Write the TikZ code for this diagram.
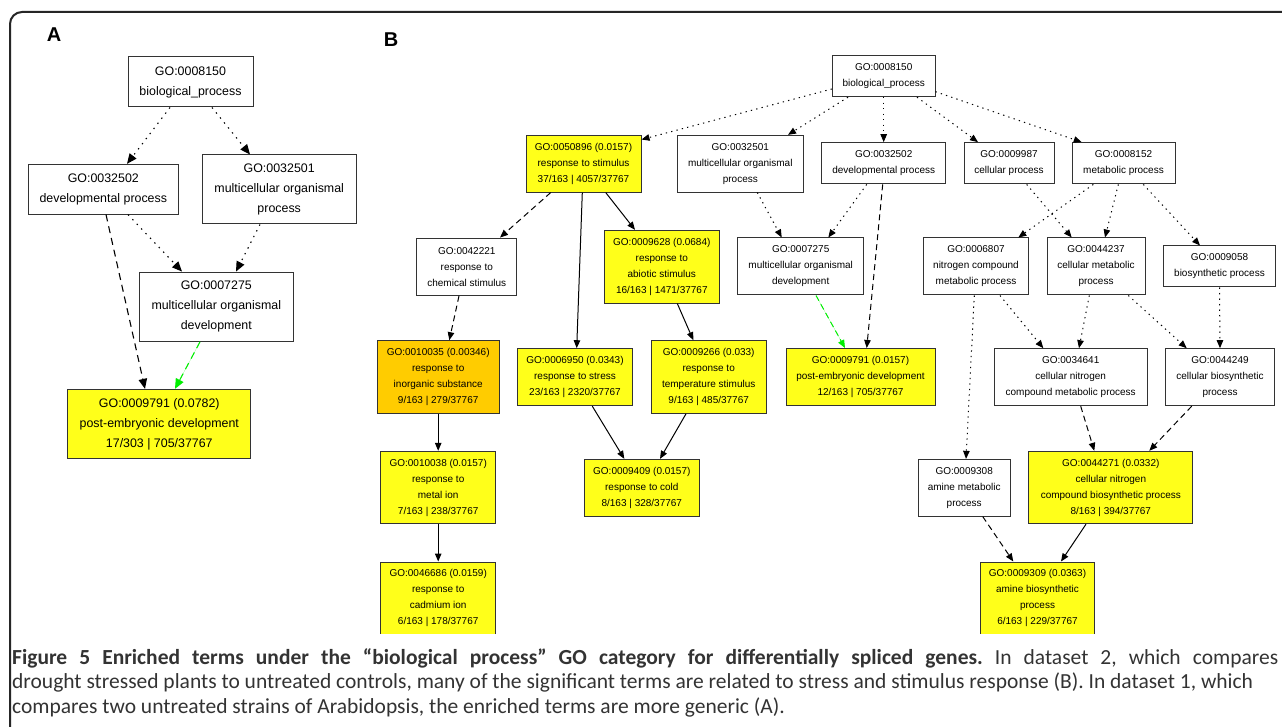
\documentclass[tikz,border=0pt]{standalone}
\usepackage{fontspec}
\setmainfont{Liberation Sans}
\newfontfamily\capfont{Carlito}
\usetikzlibrary{arrows.meta,calc}
\definecolor{sigyellow}{HTML}{FFFF1A}
\definecolor{sigorange}{HTML}{FFCC00}
\definecolor{edgegreen}{HTML}{00EE00}
\definecolor{boxline}{HTML}{333333}
\tikzset{
  gobox/.style={draw=boxline, line width=1pt, fill=white, align=center, inner sep=0pt, text=black,
    font=\fontsize{10}{16}\selectfont},
  goA/.style={gobox, font=\fontsize{12.4}{20}\selectfont},
  sigy/.style={fill=sigyellow},
  sigo/.style={fill=sigorange},
  tipB/.style={-{Triangle[length=8pt,width=6.5pt]}},
  tipA/.style={-{Triangle[length=10pt,width=8.5pt]}},
  dotB/.style={line width=1pt, dash pattern=on 1.3pt off 4.2pt, tipB},
  dashB/.style={line width=1pt, dash pattern=on 6pt off 4pt, tipB},
  solB/.style={line width=1pt, tipB},
  dotA/.style={line width=1.1pt, dash pattern=on 1.4pt off 5pt, tipA},
  dashA/.style={line width=1.1pt, dash pattern=on 7pt off 5pt, tipA},
  greenA/.style={dashA, draw=edgegreen, fill=edgegreen},
  greenB/.style={dashB, draw=edgegreen, fill=edgegreen},
  panel/.style={font=\fontsize{20}{20}\selectfont\bfseries, inner sep=0pt}
}
\begin{document}
\begin{tikzpicture}[x=1pt,y=-1pt]
\useasboundingbox (0,0) rectangle (1282,727);
\fill[white] (0,0) rectangle (1282,727);
% frame
\draw[line width=2pt, draw=black!85] (10,728) -- (10,24) arc[start angle=180,end angle=270,radius=12] -- (1283,12);
\node[panel] (labA) at (54,35) {A};
\node[panel] (labB) at (391,40) {B};

% ---------------- Panel A ----------------
\node[goA, minimum width=125pt, minimum height=50pt] (Abp) at (190.5,82) {GO:0008150\\biological\_process};
\node[goA, minimum width=150pt, minimum height=49.7pt] (Adev) at (103.3,189.2) {GO:0032502\\developmental process};
\node[goA, minimum width=153.7pt, minimum height=69pt] (Amop) at (279.2,189.5) {GO:0032501\\multicellular organismal\\process};
\node[goA, minimum width=154pt, minimum height=69.3pt] (Amod) at (216.3,306.7) {GO:0007275\\multicellular organismal\\development};
\node[goA, sigy, minimum width=182.7pt, minimum height=69.3pt] (Aped) at (159.3,424) {GO:0009791 (0.0782)\\post-embryonic development\\17/303 | 705/37767};

\draw[dotA] ([xshift=-20.5pt]Abp.south) -- ([xshift=23.7pt]Adev.north);
\draw[dotA] ([xshift=21.5pt]Abp.south) -- ([xshift=-29.2pt]Amop.north);
\draw[dotA] ([xshift=24.7pt]Adev.south) -- ([xshift=-34.3pt]Amod.north);
\draw[dotA] ([xshift=-19.2pt]Amop.south) -- ([xshift=19.7pt]Amod.north);
\draw[dashA] ([xshift=2.7pt]Adev.south) -- ([xshift=-14.3pt]Aped.north);
\draw[greenA] ([xshift=-16.3pt]Amod.south) -- ([xshift=15.7pt]Aped.north);

% ---------------- Panel B ----------------
\begin{scope}
\clip (0,0) rectangle (1282,633.3);
\node[gobox, minimum width=102.7pt, minimum height=41pt] (bpB) at (883.7,76.2) {GO:0008150\\biological\_process};
\node[gobox, sigy, minimum width=115pt, minimum height=56.7pt] (rts) at (583.5,163.7) {GO:0050896 (0.0157)\\response to stimulus\\37/163 | 4057/37767};
\node[gobox, minimum width=126pt, minimum height=56.7pt] (mopB) at (740.3,163.7) {GO:0032501\\multicellular organismal\\process};
\node[gobox, minimum width=124pt, minimum height=41.3pt] (devB) at (883.7,163.3) {GO:0032502\\developmental process};
\node[gobox, minimum width=90pt, minimum height=41.3pt] (cp) at (1009,163.3) {GO:0009987\\cellular process};
\node[gobox, minimum width=103pt, minimum height=41.3pt] (mp) at (1123.5,163.3) {GO:0008152\\metabolic process};

\node[gobox, minimum width=100.3pt, minimum height=57.3pt] (rcs) at (466.8,266.7) {GO:0042221\\response to\\chemical stimulus};
\node[gobox, sigy, minimum width=115pt, minimum height=72.7pt] (ras) at (661.8,266.7) {GO:0009628 (0.0684)\\response to\\abiotic stimulus\\16/163 | 1471/37767};
\node[gobox, minimum width=126pt, minimum height=57pt] (modB) at (800.7,266.5) {GO:0007275\\multicellular organismal\\development};
\node[gobox, minimum width=104.6pt, minimum height=57pt] (ncm) at (976,266.5) {GO:0006807\\nitrogen compound\\metabolic process};
\node[gobox, minimum width=98pt, minimum height=57pt] (cmp) at (1096,266.5) {GO:0044237\\cellular metabolic\\process};
\node[gobox, minimum width=112.4pt, minimum height=41pt] (bsp) at (1219.5,266.5) {GO:0009058\\biosynthetic process};

\node[gobox, sigo, minimum width=121.7pt, minimum height=72.6pt] (ris) at (438.2,377) {GO:0010035 (0.00346)\\response to\\inorganic substance\\9/163 | 279/37767};
\node[gobox, sigy, minimum width=115.4pt, minimum height=57pt] (rst) at (575,377.2) {GO:0006950 (0.0343)\\response to stress\\23/163 | 2320/37767};
\node[gobox, sigy, minimum width=115.3pt, minimum height=72.6pt] (rtemp) at (708.7,377) {GO:0009266 (0.033)\\response to\\temperature stimulus\\9/163 | 485/37767};
\node[gobox, sigy, minimum width=149pt, minimum height=57.2pt] (pedB) at (860.5,377.1) {GO:0009791 (0.0157)\\post-embryonic development\\12/163 | 705/37767};
\node[gobox, minimum width=153.3pt, minimum height=57pt] (cnc) at (1070.7,377.2) {GO:0034641\\cellular nitrogen\\compound metabolic process};
\node[gobox, minimum width=108.6pt, minimum height=57pt] (cbp) at (1220,377.2) {GO:0044249\\cellular biosynthetic\\process};

\node[gobox, sigy, minimum width=115pt, minimum height=72.4pt] (rmi) at (438.2,487.5) {GO:0010038 (0.0157)\\response to\\metal ion\\7/163 | 238/37767};
\node[gobox, sigy, minimum width=115pt, minimum height=56.7pt] (rcold) at (641.8,487.7) {GO:0009409 (0.0157)\\response to cold\\8/163 | 328/37767};
\node[gobox, minimum width=91.7pt, minimum height=56.7pt] (amp) at (964.2,487.7) {GO:0009308\\amine metabolic\\process};
\node[gobox, sigy, minimum width=163.7pt, minimum height=72.4pt] (cncb) at (1110.8,487.5) {GO:0044271 (0.0332)\\cellular nitrogen\\compound biosynthetic process\\8/163 | 394/37767};

\node[gobox, sigy, minimum width=115pt, minimum height=72.4pt] (rcd) at (438.2,598.2) {GO:0046686 (0.0159)\\response to\\cadmium ion\\6/163 | 178/37767};
\node[gobox, sigy, minimum width=113.6pt, minimum height=72.4pt] (abp) at (1037.5,598.2) {GO:0009309 (0.0363)\\amine biosynthetic\\process\\6/163 | 229/37767};
\end{scope}

\draw[dotB] ([yshift=-12.8pt]bpB.west) -- ([yshift=-4.7pt]rts.north east);
\draw[dotB] ([xshift=-35.7pt]bpB.south) -- ([xshift=47.7pt]mopB.north);
\draw[dotB] (bpB.south) -- (devB.north);
\draw[dotB] ([xshift=33.3pt]bpB.south) -- ([xshift=-31pt]cp.north);
\draw[dotB] ([yshift=-15.5pt]bpB.east) -- ([xshift=-41.8pt]mp.north);

\draw[dashB] ([xshift=-32.8pt]rts.south) -- ([xshift=33.2pt]rcs.north);
\draw[solB] ([xshift=-1.2pt]rts.south) -- ([xshift=1.7pt]rst.north);
\draw[solB] ([xshift=22.2pt]rts.south) -- ([xshift=-26.8pt]ras.north);
\draw[dotB] ([xshift=17pt]mopB.south) -- ([xshift=-19pt]modB.north);
\draw[dotB] ([xshift=-17pt]devB.south) -- ([xshift=27.6pt]modB.north);
\draw[dashB] ([xshift=-1pt]devB.south) -- ([xshift=6.2pt]pedB.north);
\draw[greenB] ([xshift=15.3pt]modB.south) -- ([xshift=-15.5pt]pedB.north);
\draw[dotB] ([xshift=17.7pt]cp.south) -- ([xshift=-24.3pt]cmp.north);
\draw[dotB] ([xshift=-30.2pt]mp.south) -- ([xshift=42.3pt]ncm.north);
\draw[dotB] ([xshift=-5.2pt]mp.south) -- ([xshift=9pt]cmp.north);
\draw[dotB] ([xshift=19.8pt]mp.south) -- ([xshift=-19.5pt]bsp.north);

\draw[dashB] ([xshift=-7.8pt]rcs.south) -- ([xshift=11.1pt]ris.north);
\draw[solB] ([xshift=15.5pt]ras.south) -- ([xshift=-15.4pt]rtemp.north);
\draw[dotB] ([xshift=-1.7pt]ncm.south) -- ([xshift=1.8pt]amp.north);
\draw[dotB] ([xshift=24pt]ncm.south) -- ([xshift=-27.4pt]cnc.north);
\draw[dotB] ([xshift=-6.7pt]cmp.south) -- ([xshift=8.3pt]cnc.north);
\draw[dotB] ([xshift=32.3pt]cmp.south) -- ([xshift=-33.3pt]cbp.north);
\draw[dotB] (bsp.south) -- (cbp.north);

\draw[solB] (ris.south) -- (rmi.north);
\draw[solB] ([xshift=17.3pt]rst.south) -- ([xshift=-17.5pt]rcold.north);
\draw[solB] ([xshift=-22.7pt]rtemp.south) -- ([xshift=18.2pt]rcold.north);
\draw[solB] (rmi.south) -- (rcd.north);
\draw[dashB] ([xshift=10pt]cnc.south) -- ([xshift=-16.5pt]cncb.north);
\draw[dashB] ([xshift=-28.3pt]cbp.south) -- ([xshift=38.5pt]cncb.north);
\draw[dashB] ([xshift=18.5pt]amp.south) -- ([xshift=-24.2pt]abp.north);
\draw[solB] ([xshift=-24.8pt]cncb.south) -- ([xshift=23.5pt]abp.north);

% caption
\node[anchor=base west, inner sep=0pt, text width=1266pt, align=justify, text=black!80,
  font=\capfont\fontsize{21.5}{24.5}\selectfont] (cap) at (12,664)
  {\frenchspacing\hyphenpenalty=10000 {\bfseries Figure 5 Enriched terms under the “biological process” GO category for differentially spliced genes.} In dataset 2, which compares\linebreak
   drought stressed plants to untreated controls, many of the significant terms are related to stress and stimulus response (B). In dataset 1, which\\
   compares two untreated strains of Arabidopsis, the enriched terms are more generic (A).};
\end{tikzpicture}
\end{document}
